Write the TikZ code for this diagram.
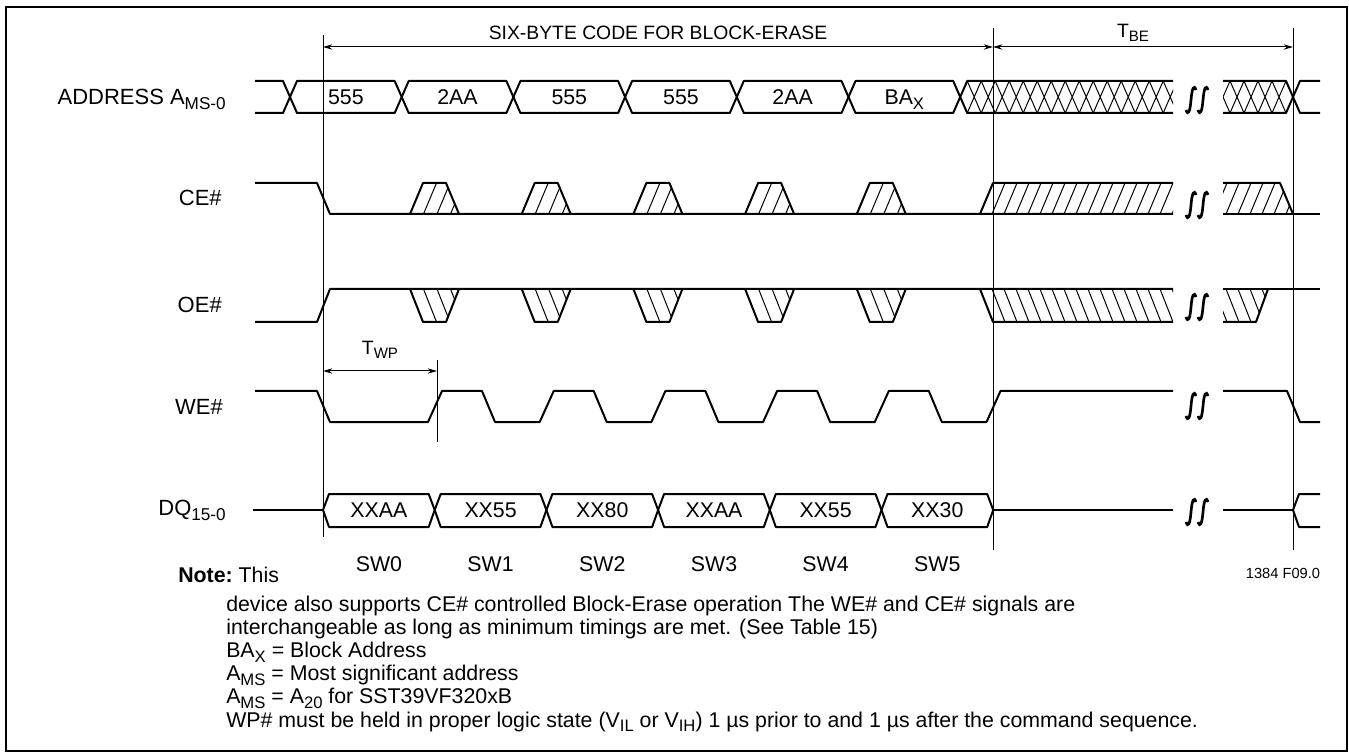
\documentclass[tikz,border=0pt]{standalone}
\usepackage{fontspec}
\setmainfont{Liberation Sans}
\usetikzlibrary{arrows.meta,positioning}

\newcommand{\lowtxt}[1]{\raisebox{-0.22em}[0pt][0pt]{\scalebox{0.78}{#1}}}

\tikzset{
  sig/.style={line width=1.5pt, line join=round},
  hatch/.style={line width=0.75pt},
  guide/.style={line width=0.75pt},
  dimline/.style={<->, >={Stealth[length=7pt,width=4pt]}, line width=0.75pt},
  signame/.style={font=\fontsize{16.5}{18}\selectfont, anchor=east, inner sep=0pt},
  busval/.style={font=\fontsize{16}{18}\selectfont, inner sep=0pt},
  heading/.style={font=\fontsize{14.5}{16}\selectfont, inner sep=0pt},
  notetext/.style={font=\fontsize{16}{18}\selectfont, anchor=base west, inner sep=0pt},
  brk/.pic={
    \foreach \q in {-6,6}
      \draw[line width=2pt] (\q-5,10) .. controls (\q-3,16) and (\q-1,12) .. (\q,0)
        .. controls (\q+1,-12) and (\q+3,-16) .. (\q+5,-10);
  },
}

\begin{document}
\begin{tikzpicture}[x=0.75pt, y=-0.75pt]
  \useasboundingbox (0,0) rectangle (1349,755);
  \draw[line width=1.5pt] (6,7) rectangle (1347,751);

  % signal names
  \node[signame] (addr) at (226,97) {ADDRESS A\lowtxt{MS-0}};
  \node[signame] (ce) at (222,198) {CE\#};
  \node[signame] (oe) at (222,305) {OE\#};
  \node[signame] (we) at (223,407) {WE\#};
  \node[signame] (dq) at (226,510) {DQ\lowtxt{15-0}};

  % guide lines and time spans
  \coordinate (v1t) at (323,35);  \coordinate (v1b) at (323,537);
  \coordinate (v2t) at (993,28);  \coordinate (v2b) at (993,550);
  \coordinate (v3t) at (1293,28); \coordinate (v3b) at (1293,550);
  \coordinate (v4t) at (437,360); \coordinate (v4b) at (437,442);
  \draw[guide] (v1t) -- (v1b);
  \draw[guide] (v2t) -- (v2b);
  \draw[guide] (v3t) -- (v3b);
  \draw[guide] (v4t) -- (v4b);
  \coordinate (d1) at (323,47); \coordinate (d2) at (993,47); \coordinate (d3) at (1293,47);
  \coordinate (w1) at (323,371); \coordinate (w2) at (437,371);
  \draw[dimline] (d1) -- (d2);
  \draw[dimline] (d2) -- (d3);
  \draw[dimline] (w1) -- (w2);
  \node[heading] (code) at (658,33) {SIX-BYTE CODE FOR BLOCK-ERASE};
  \node[heading] (tbe) at (1133,31) {T\lowtxt{BE}};
  \node[heading] (twp) at (380,348) {T\lowtxt{WP}};

  % address bus
  \draw[sig] (255,81) -- (283,81) -- (290,97) -- (283,113) -- (255,113);
  \foreach \a/\b in {290/401.7, 401.7/513.4, 513.4/625.1, 625.1/736.8, 736.8/848.5, 848.5/960.2}
    \draw[sig] (\a,97) -- (\a+7,81) -- (\b-7,81) -- (\b,97) -- (\b-7,113) -- (\a+7,113) -- cycle;
  \draw[sig] (1173,81) -- (967.2,81) -- (960.2,97) -- (967.2,113) -- (1173,113);
  \begin{scope}
    \clip (960.2,97) -- (967.2,81) -- (1173,81) -- (1173,113) -- (967.2,113) -- cycle;
    \foreach \c in {974.2,988.2,...,1180.2}
      \draw[hatch] (\c-7,81) -- (\c+7,113) (\c-7,113) -- (\c+7,81);
  \end{scope}
  \draw[sig] (1223,81) -- (1286,81) -- (1293,97) -- (1286,113) -- (1223,113);
  \begin{scope}
    \clip (1223,81) -- (1286,81) -- (1293,97) -- (1286,113) -- (1223,113) -- cycle;
    \foreach \c in {1223,1237,...,1279}
      \draw[hatch] (\c-7,81) -- (\c+7,113) (\c-7,113) -- (\c+7,81);
  \end{scope}
  \draw[sig] (1320,81) -- (1300,81) -- (1293,97) -- (1300,113) -- (1320,113);
  \node[busval] (a1) at (345.9,97) {555};
  \node[busval] (a2) at (457.5,97) {2AA};
  \node[busval] (a3) at (569.3,97) {555};
  \node[busval] (a4) at (681,97) {555};
  \node[busval] (a5) at (792.6,97) {2AA};
  \node[busval] (a6) at (904.3,97) {BA\lowtxt{X}};

  % CE#
  \draw[sig] (255,183) -- (317,183) -- (330,214) -- (1173,214);
  \draw[sig] (1223,214) -- (1320,214);
  \foreach \x in {410,521.7,633.4,745.1,856.8} {
    \draw[sig] (\x,214) -- (\x+13,183) -- (\x+36,183) -- (\x+49,214);
    \begin{scope}
      \clip (\x,214) -- (\x+13,183) -- (\x+36,183) -- (\x+49,214) -- cycle;
      \foreach \j in {1,2,3}
        \draw[hatch] (\x+13.5*\j,214) -- (\x+13.5*\j+13,183);
    \end{scope}
  }
  \draw[sig] (980,214) -- (993,183) -- (1173,183);
  \begin{scope}
    \clip (980,214) -- (993,183) -- (1173,183) -- (1173,214) -- cycle;
    \foreach \h in {992,1004,...,1184}
      \draw[hatch] (\h,214) -- (\h+13,183);
  \end{scope}
  \draw[sig] (1223,183) -- (1280,183) -- (1293,214);
  \begin{scope}
    \clip (1223,214) -- (1223,183) -- (1280,183) -- (1293,214) -- cycle;
    \foreach \h in {1214,1226,...,1286}
      \draw[hatch] (\h,214) -- (\h+13,183);
  \end{scope}

  % OE#
  \draw[sig] (255,322) -- (317,322) -- (330,289) -- (1173,289);
  \draw[sig] (1223,289) -- (1320,289);
  \foreach \x in {410,521.7,633.4,745.1,856.8} {
    \draw[sig] (\x,289) -- (\x+13,322) -- (\x+36,322) -- (\x+49,289);
    \begin{scope}
      \clip (\x,289) -- (\x+13,322) -- (\x+36,322) -- (\x+49,289) -- cycle;
      \foreach \j in {1,2,3}
        \draw[hatch] (\x+13.5*\j,289) -- (\x+13.5*\j+13,322);
    \end{scope}
  }
  \draw[sig] (980,289) -- (993,322) -- (1173,322);
  \begin{scope}
    \clip (980,289) -- (993,322) -- (1173,322) -- (1173,289) -- cycle;
    \foreach \h in {992,1004,...,1184}
      \draw[hatch] (\h,289) -- (\h+13,322);
  \end{scope}
  \draw[sig] (1223,322) -- (1256,322) -- (1268,289);
  \begin{scope}
    \clip (1223,289) -- (1223,322) -- (1256,322) -- (1268,289) -- cycle;
    \foreach \h in {1214,1226,...,1262}
      \draw[hatch] (\h,289) -- (\h+13,322);
  \end{scope}

  % WE#
  \draw[sig] (255,391) -- (317,391) -- (330,422)
    -- (428,422) -- (442,391) -- (482,391) -- (495,422)
    -- (539.7,422) -- (553.7,391) -- (593.7,391) -- (606.7,422)
    -- (651.4,422) -- (665.4,391) -- (705.4,391) -- (718.4,422)
    -- (763.1,422) -- (777.1,391) -- (817.1,391) -- (830.1,422)
    -- (874.8,422) -- (888.8,391) -- (928.8,391) -- (941.8,422)
    -- (986.5,422) -- (1000.5,391) -- (1173,391);
  \draw[sig] (1223,391) -- (1287,391) -- (1300,422) -- (1320,422);

  % DQ bus
  \draw[sig] (253,510) -- (323,510);
  \foreach \a/\b in {323/434.7, 434.7/546.4, 546.4/658.1, 658.1/769.8, 769.8/881.5, 881.5/993.2}
    \draw[sig] (\a,510) -- (\a+6,494) -- (\b-6,494) -- (\b,510) -- (\b-6,527) -- (\a+6,527) -- cycle;
  \draw[sig] (993.2,510) -- (1173,510);
  \draw[sig] (1223,510) -- (1293,510);
  \draw[sig] (1320,494) -- (1299,494) -- (1293,510) -- (1299,527) -- (1320,527);
  \node[busval] (q0) at (378.9,510) {XXAA};
  \node[busval] (q1) at (490.6,510) {XX55};
  \node[busval] (q2) at (602.3,510) {XX80};
  \node[busval] (q3) at (714,510) {XXAA};
  \node[busval] (q4) at (825.6,510) {XX55};
  \node[busval] (q5) at (937.3,510) {XX30};
  \node[busval] (sw0) at (378.9,564) {SW0};
  \node[busval] (sw1) at (490.6,564) {SW1};
  \node[busval] (sw2) at (602.3,564) {SW2};
  \node[busval] (sw3) at (714,564) {SW3};
  \node[busval] (sw4) at (825.6,564) {SW4};
  \node[busval] (sw5) at (937.3,564) {SW5};

  % breaks
  \pic at (1197,100) {brk};
  \pic at (1197,205) {brk};
  \pic at (1197,307) {brk};
  \pic at (1197,406) {brk};
  \pic at (1197,512) {brk};

  % notes
  \node[font=\fontsize{11}{12}\selectfont, inner sep=0pt] (fig) at (1283,573) {1384 F09.0};
  \node[notetext, font=\bfseries\fontsize{16}{18}\selectfont] (note) at (178,582) {Note:};
  \node[notetext, right=4pt of note.base east, anchor=base west] (this) {This};
  \node[notetext] (n1) at (226,611) {device also supports CE\# controlled Block-Erase operation The WE\# and CE\# signals are};
  \node[notetext] (n2) at (226,634.2) {interchangeable as long as minimum timings are met. (See Table 15)};
  \node[notetext] (n3) at (226,657.4) {BA\lowtxt{X} = Block Address};
  \node[notetext] (n4) at (226,680.6) {A\lowtxt{MS} = Most significant address};
  \node[notetext] (n5) at (226,703.8) {A\lowtxt{MS} = A\lowtxt{20} for SST39VF320xB};
  \node[notetext] (n6) at (226,727) {WP\# must be held in proper logic state (V\lowtxt{IL} or V\lowtxt{IH}) 1 µs prior to and 1 µs after the command sequence.};
\end{tikzpicture}
\end{document}
